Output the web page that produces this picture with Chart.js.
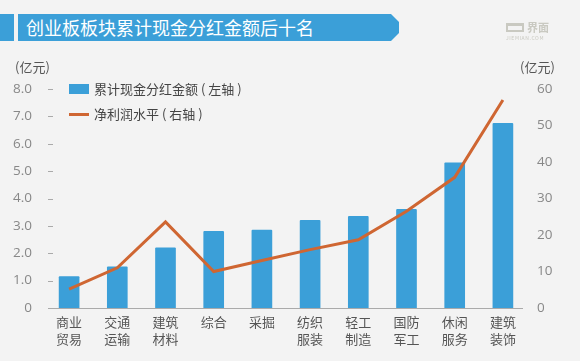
<!DOCTYPE html>
<html>
<head>
<meta charset="utf-8">
<script src="https://cdn.jsdelivr.net/npm/chart.js@4"></script>
<style>
    html, body { margin: 0; padding: 0; background: #f3f3f3; }
    body { width: 580px; height: 361px; position: relative; overflow: hidden; font-family: "Noto Sans CJK SC", sans-serif; }
    canvas { position: absolute; left: 0; top: 0; }
    .abs { position: absolute; white-space: nowrap; }
    .stub { left: 0; top: 14px; width: 14px; height: 27px; background: #3b9fd8; }
    .banner { left: 18px; top: 14px; width: 381px; height: 27px; background: #3b9fd8; color: #fff; font-size: 18px; line-height: 27px; padding-left: 8px; box-sizing: border-box; clip-path: polygon(0 0, 373px 0, 100% 8px, 100% 19px, 373px 100%, 0 100%); }
    .unit { font-size: 13px; color: #555; top: 58px; line-height: 18px; }
    .legend-text { left: 94px; font-size: 13px; color: #444; line-height: 18px; }
    .wm1 { left: 527px; top: 20px; font-size: 11px; font-weight: 700; color: #c9c9c1; line-height: 14px; }
    .wm2 { left: 506px; top: 35px; font-size: 5px; color: #c9c9c1; letter-spacing: 0.6px; line-height: 6px; }
    .wm-box { left: 506px; top: 23px; width: 18px; height: 9px; border: 2px solid #c9c9c1; box-sizing: border-box; border-top-width: 3px; }
</style>
</head>
<body>
<canvas id="myChart" width="580" height="361"></canvas>
<div class="abs stub"></div>
<div class="abs banner" id="title"></div>
<div class="abs wm-box"></div>
<div class="abs wm1">界面</div>
<div class="abs wm2">JIEMIAN.COM</div>
<div class="abs unit" style="left:15px">(亿元)</div>
<div class="abs unit" style="left:520px">(亿元)</div>
<div class="abs" style="left:69px;top:84px;width:20px;height:10px;background:#3b9fd8"></div>
<div class="abs" style="left:69px;top:113px;width:20px;height:2.5px;background:#cf6632"></div>
<div class="abs legend-text" id="legend1" style="top:80px"></div>
<div class="abs legend-text" id="legend2" style="top:105px"></div>
<script>
var titleText = '创业板板块累计现金分红金额后十名';
var categories = [['商业', '贸易'], ['交通', '运输'], ['建筑', '材料'], ['综合'], ['采掘'], ['纺织', '服装'], ['轻工', '制造'], ['国防', '军工'], ['休闲', '服务'], ['建筑', '装饰']];
var dividendLabel = '累计现金分红金额 ( 左轴 )';
var marginLabel = '净利润水平 ( 右轴 )';
var dividend = [1.15, 1.5, 2.2, 2.8, 2.85, 3.2, 3.35, 3.6, 5.3, 6.75];
var margin = [5.2, 11, 23.6, 10, 13, 16, 18.7, 26.5, 35.8, 57];

document.getElementById('title').textContent = titleText;
document.getElementById('legend1').textContent = dividendLabel;
document.getElementById('legend2').textContent = marginLabel;

// baseline and the short left tick marks start a bit inside the category band
var axisMarks = {
    id: 'axisMarks',
    afterDatasetsDraw: function(chart) {
        var ctx = chart.ctx;
        var y = chart.scales.y;
        ctx.save();
        ctx.strokeStyle = '#aaaaaa';
        ctx.lineWidth = 1;
        y.ticks.forEach(function(t) {
            var py = Math.round(y.getPixelForValue(t.value)) + 0.5;
            ctx.beginPath();
            ctx.moveTo(48, py);
            ctx.lineTo(t.value === 0 ? 523 : 53, py);
            ctx.stroke();
        });
        ctx.restore();
    }
};

var ctx = document.getElementById('myChart').getContext('2d');
var myChart = new Chart(ctx, {
    data: {
        labels: categories,
        datasets: [{
            type: 'line',
            label: marginLabel,
            data: margin,
            yAxisID: 'y2',
            borderColor: '#cf6632',
            borderWidth: 3,
            pointRadius: 0,
            tension: 0,
            order: 1
        }, {
            type: 'bar',
            label: dividendLabel,
            data: dividend,
            yAxisID: 'y',
            backgroundColor: '#3b9fd8',
            barThickness: 20,
            borderRadius: 1,
            order: 2
        }]
    },
    options: {
        responsive: false,
        animation: false,
        layout: { padding: { top: 89, left: 0, right: 0, bottom: 0 } },
        plugins: { legend: { display: false }, tooltip: { enabled: false } },
        scales: {
            x: {
                grid: { display: false },
                border: { display: false },
                afterFit: function(s) { s.height = 53; },
                ticks: { color: '#555555', font: { family: '"Noto Sans CJK SC"', size: 13, lineHeight: 1.27 }, padding: -2, maxRotation: 0, autoSkip: false }
            },
            y: {
                min: 0,
                max: 8,
                grid: { display: false },
                border: { display: false },
                afterFit: function(s) { s.width = 45; },
                ticks: {
                    stepSize: 1,
                    color: '#888888',
                    padding: 5,
                    font: { family: '"Open Sans"', size: 13.5 },
                    callback: function(v) { return v === 0 ? '0' : v.toFixed(1); }
                }
            },
            y2: {
                position: 'right',
                min: 0,
                max: 60,
                grid: { display: false },
                border: { display: false },
                afterFit: function(s) { s.width = 53; },
                ticks: { stepSize: 10, color: '#888888', padding: 2, font: { family: '"Open Sans"', size: 13.5 } }
            }
        }
    },
    plugins: [axisMarks]
});
</script>
</body>
</html>
